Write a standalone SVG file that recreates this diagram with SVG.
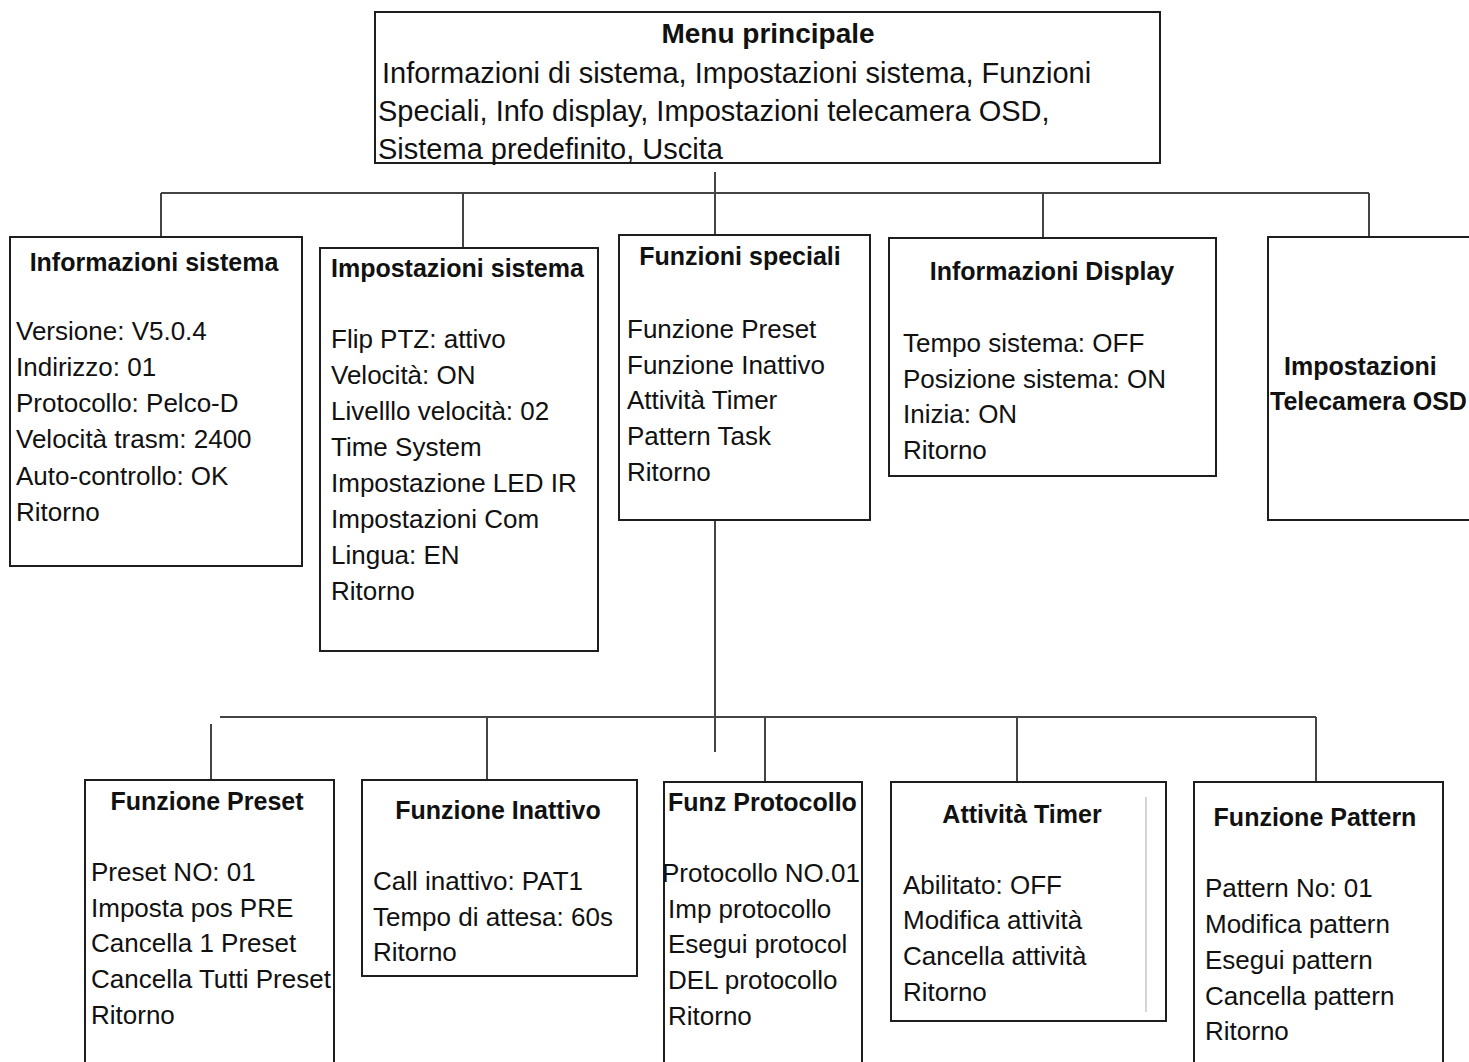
<svg xmlns="http://www.w3.org/2000/svg" width="1469" height="1062" viewBox="0 0 1469 1062">
<style>
.box{fill:#fff;stroke:#1e1e1e;stroke-width:2}
.t{font-family:"Liberation Sans",Arial,sans-serif;font-size:26px;fill:#111}
.tt{font-family:"Liberation Sans",Arial,sans-serif;font-size:29px;fill:#111}
.h{font-family:"Liberation Sans",Arial,sans-serif;font-size:25px;font-weight:bold;fill:#111}
.hm{font-family:"Liberation Sans",Arial,sans-serif;font-size:28px;font-weight:bold;fill:#111}
.c{text-anchor:middle}
.ln{fill:none;stroke:#444;stroke-width:2}
</style>
<rect width="1469" height="1062" fill="#fff"/>
<g id="connectors">
<path class="ln" d="M715 172V240M161 193H1369M161 193V250M463 193V260M1043 193V255M1369 193V255"/>
<path class="ln" d="M715 520V752M220 717H1316M211 724V790M487 717V792M765 717V792M1017 717V794M1316 717V795"/>
</g>
<g id="menu-principale">
<rect class="box" x="375" y="12" width="785" height="151"/>
<text class="hm c" x="768" y="43">Menu principale</text>
<text class="tt" x="382" y="83">Informazioni di sistema, Impostazioni sistema, Funzioni</text>
<text class="tt" x="378" y="121">Speciali, Info display, Impostazioni telecamera OSD,</text>
<text class="tt" x="378" y="159">Sistema predefinito, Uscita</text>
</g>
<g id="informazioni-sistema">
<rect class="box" x="10" y="237" width="292" height="329"/>
<text class="h c" x="154" y="271">Informazioni sistema</text>
<text class="t" x="16" y="340">Versione: V5.0.4</text>
<text class="t" x="16" y="376">Indirizzo: 01</text>
<text class="t" x="16" y="412">Protocollo: Pelco-D</text>
<text class="t" x="16" y="448">Velocità trasm: 2400</text>
<text class="t" x="16" y="485">Auto-controllo: OK</text>
<text class="t" x="16" y="521">Ritorno</text>
</g>
<g id="impostazioni-sistema">
<rect class="box" x="320" y="248" width="278" height="403"/>
<text class="h" x="331" y="277">Impostazioni sistema</text>
<text class="t" x="331" y="348">Flip PTZ: attivo</text>
<text class="t" x="331" y="384">Velocità: ON</text>
<text class="t" x="331" y="420">Livelllo velocità: 02</text>
<text class="t" x="331" y="456">Time System</text>
<text class="t" x="331" y="492">Impostazione LED IR</text>
<text class="t" x="331" y="528">Impostazioni Com</text>
<text class="t" x="331" y="564">Lingua: EN</text>
<text class="t" x="331" y="600">Ritorno</text>
</g>
<g id="funzioni-speciali">
<rect class="box" x="619" y="235" width="251" height="285"/>
<text class="h c" x="740" y="265">Funzioni speciali</text>
<text class="t" x="627" y="338">Funzione Preset</text>
<text class="t" x="627" y="374">Funzione Inattivo</text>
<text class="t" x="627" y="409">Attività Timer</text>
<text class="t" x="627" y="445">Pattern Task</text>
<text class="t" x="627" y="481">Ritorno</text>
</g>
<g id="informazioni-display">
<rect class="box" x="889" y="238" width="327" height="238"/>
<text class="h c" x="1052" y="280">Informazioni Display</text>
<text class="t" x="903" y="352">Tempo sistema: OFF</text>
<text class="t" x="903" y="388">Posizione sistema: ON</text>
<text class="t" x="903" y="423">Inizia: ON</text>
<text class="t" x="903" y="459">Ritorno</text>
</g>
<g id="impostazioni-telecamera-osd">
<rect class="box" x="1268" y="237" width="210" height="283"/>
<text class="h" x="1284" y="375">Impostazioni</text>
<text class="h" x="1270" y="410">Telecamera OSD</text>
</g>
<g id="funzione-preset">
<rect class="box" x="85" y="780" width="249" height="300"/>
<text class="h c" x="207" y="810">Funzione Preset</text>
<text class="t" x="91" y="881">Preset NO: 01</text>
<text class="t" x="91" y="917">Imposta pos PRE</text>
<text class="t" x="91" y="952">Cancella 1 Preset</text>
<text class="t" x="91" y="988">Cancella Tutti Preset</text>
<text class="t" x="91" y="1024">Ritorno</text>
</g>
<g id="funzione-inattivo">
<rect class="box" x="362" y="780" width="275" height="196"/>
<text class="h c" x="498" y="819">Funzione Inattivo</text>
<text class="t" x="373" y="890">Call inattivo: PAT1</text>
<text class="t" x="373" y="926">Tempo di attesa: 60s</text>
<text class="t" x="373" y="961">Ritorno</text>
</g>
<g id="funz-protocollo">
<rect class="box" x="664" y="782" width="198" height="300"/>
<text class="h" x="668" y="811">Funz Protocollo</text>
<text class="t" x="662" y="882">Protocollo NO.01</text>
<text class="t" x="668" y="918">Imp protocollo</text>
<text class="t" x="668" y="953">Esegui protocol</text>
<text class="t" x="668" y="989">DEL protocollo</text>
<text class="t" x="668" y="1025">Ritorno</text>
</g>
<g id="attivita-timer">
<rect class="box" x="891" y="782" width="275" height="239"/>
<line x1="1146" y1="797" x2="1146" y2="1012" stroke="#c8c8c8" stroke-width="1.5"/>
<text class="h c" x="1022" y="823">Attività Timer</text>
<text class="t" x="903" y="894">Abilitato: OFF</text>
<text class="t" x="903" y="929">Modifica attività</text>
<text class="t" x="903" y="965">Cancella attività</text>
<text class="t" x="903" y="1001">Ritorno</text>
</g>
<g id="funzione-pattern">
<rect class="box" x="1194" y="782" width="249" height="300"/>
<text class="h c" x="1315" y="826">Funzione Pattern</text>
<text class="t" x="1205" y="897">Pattern No: 01</text>
<text class="t" x="1205" y="933">Modifica pattern</text>
<text class="t" x="1205" y="969">Esegui pattern</text>
<text class="t" x="1205" y="1005">Cancella pattern</text>
<text class="t" x="1205" y="1040">Ritorno</text>
</g>
</svg>
